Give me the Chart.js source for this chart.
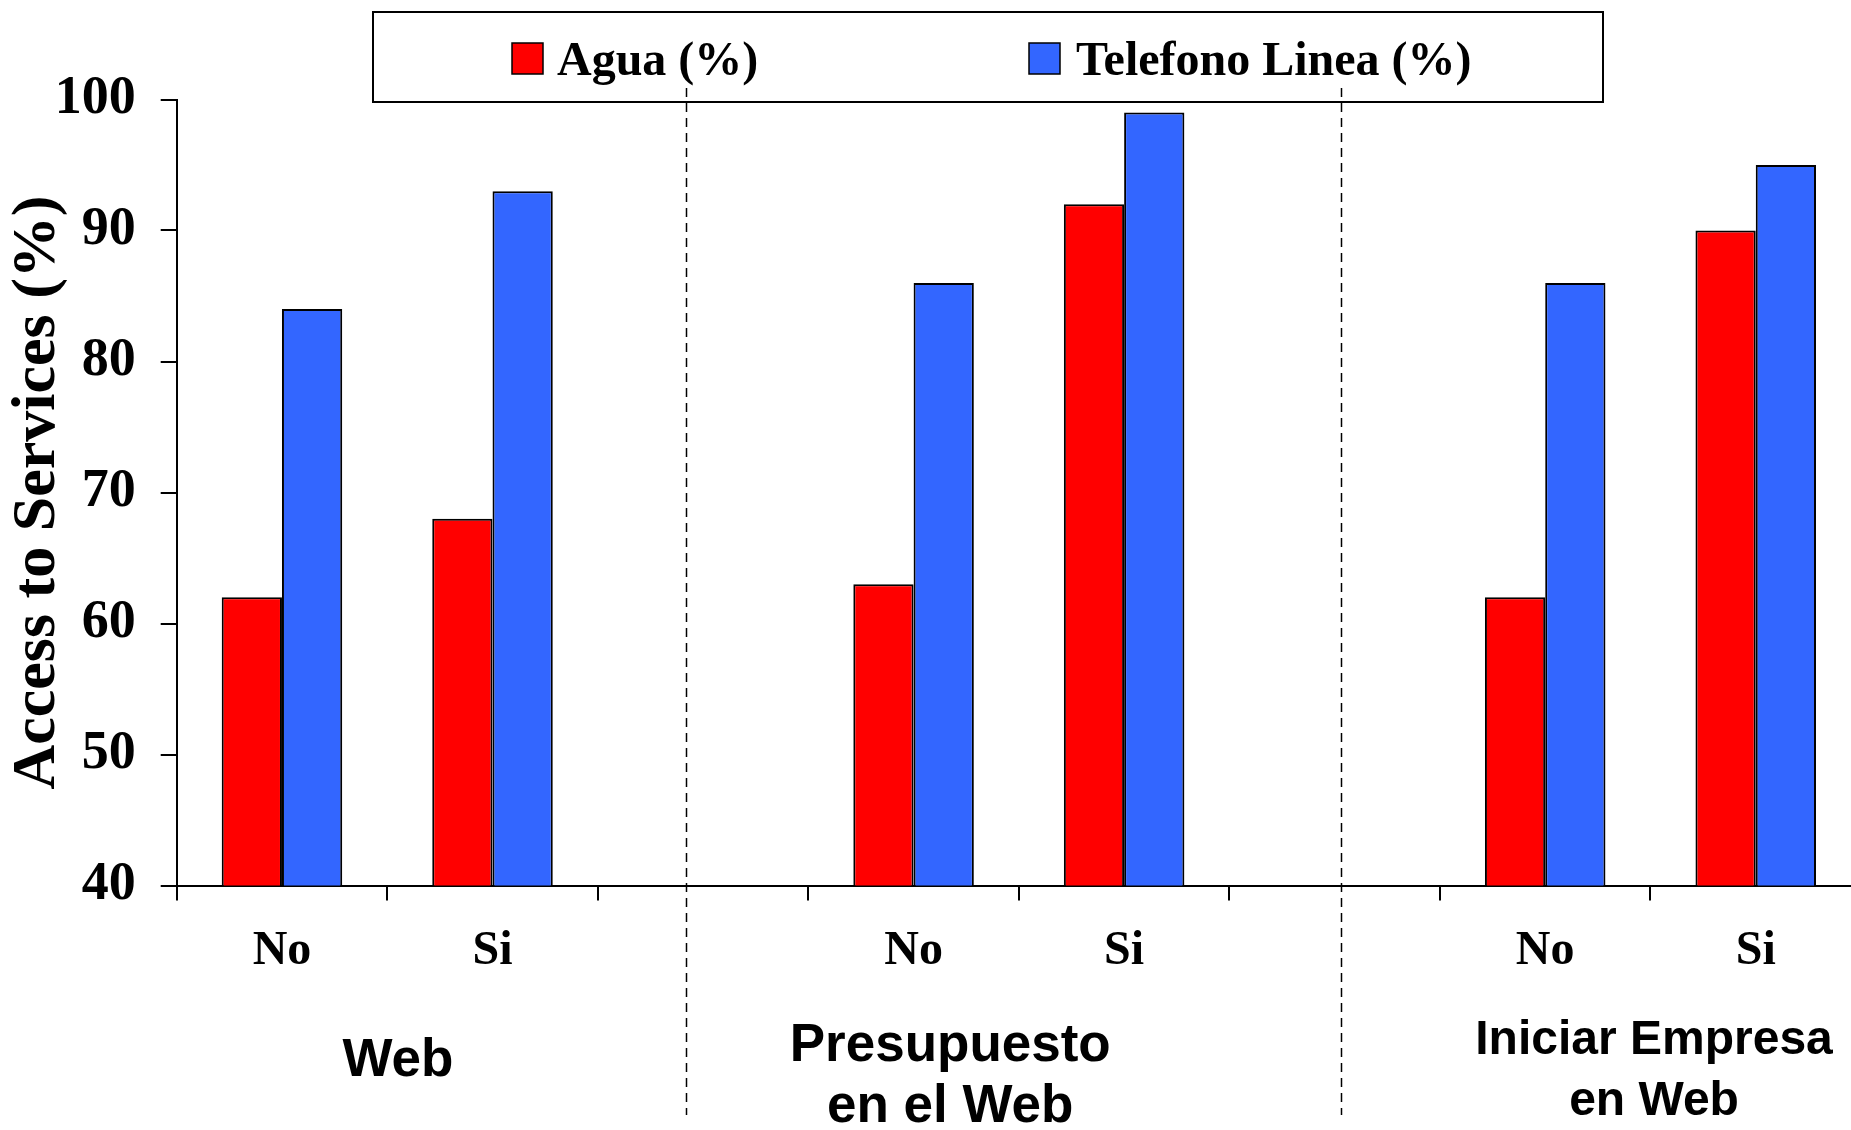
<!DOCTYPE html>
<html>
<head>
<meta charset="utf-8">
<script src="https://cdn.jsdelivr.net/npm/chart.js@4.4.0/dist/chart.umd.min.js"></script>
<style>
  html, body { margin: 0; padding: 0; background: #fff; overflow: hidden; }
  #access-chart { display: block; }
</style>
</head>
<body>
<canvas id="access-chart" width="1861" height="1130"></canvas>
<script>
// categories (blank slots separate the three groups)
const categories = ['No', 'Si', '', 'No', 'Si', '', 'No', 'Si'];
const groupNames = [['Web'], ['Presupuesto', 'en el Web'], ['Iniciar Empresa', 'en Web']];

// series values, %
const agua = [62, 68, null, 63, 92, null, 62, 90];
const telefono = [84, 93, null, 86, 99, null, 86, 95];

// y axis ticks
const yMin = 40;
const yMax = 100;
const yStep = 10;

const serif = "'Liberation Serif', 'Times New Roman', serif";
const sans = "'Liberation Sans', Arial, sans-serif";

// legend box, dashed separators and group captions under the axis
const decorations = {
    id: 'decorations',
    afterDraw(chart) {
        const c = chart.ctx;
        const x = chart.scales.x;
        c.save();

        // legend
        c.lineWidth = 2;
        c.strokeStyle = '#000';
        c.strokeRect(373, 12, 1230, 90);
        const items = [[512, 557], [1029, 1076]];
        c.font = 'bold 48px ' + serif;
        c.textBaseline = 'middle';
        c.textAlign = 'left';
        chart.data.datasets.forEach((ds, i) => {
            c.fillStyle = ds.backgroundColor;
            c.fillRect(items[i][0], 43, 31, 31);
            c.lineWidth = 1.5;
            c.strokeRect(items[i][0], 43, 31, 31);
            c.fillStyle = '#000';
            c.fillText(ds.label, items[i][1], 63);
        });

        // dashed separators
        c.setLineDash([9, 6]);
        c.lineWidth = 1.5;
        [1.92, 5.03].forEach(v => {
            const px = Math.round(x.getPixelForValue(v)) + 0.5;
            c.beginPath();
            c.moveTo(px, 88);
            c.lineTo(px, 1115);
            c.stroke();
        });
        c.setLineDash([]);

        // group captions
        c.textAlign = 'center';
        c.fillStyle = '#000';
        const spots = [
            { v: 0.551, y: 1061, size: 53 },
            { v: 3.174, y: 1046, size: 53 },
            { v: 6.517, y: 1041, size: 48 }
        ];
        groupNames.forEach((lines, i) => {
            const s = spots[i];
            c.font = 'bold ' + s.size + 'px ' + sans;
            lines.forEach((t, j) => {
                c.fillText(t, x.getPixelForValue(s.v), s.y + j * 61);
            });
        });
        c.restore();
    }
};

const ctx = document.getElementById('access-chart').getContext('2d');

new Chart(ctx, {
    type: 'bar',
    data: {
        labels: categories,
        datasets: [
            {
                label: 'Agua (%)',
                data: agua,
                backgroundColor: '#ff0000',
                borderColor: '#000',
                borderWidth: 2
            },
            {
                label: 'Telefono Linea (%)',
                data: telefono,
                backgroundColor: '#3366ff',
                borderColor: '#000',
                borderWidth: 2
            }
        ]
    },
    options: {
        responsive: false,
        animation: false,
        categoryPercentage: 0.5725,
        barPercentage: 1.0,
        layout: { padding: { top: 99.5, left: 0, right: 0, bottom: 0 } },
        plugins: {
            legend: { display: false },
            tooltip: { enabled: false }
        },
        scales: {
            x: {
                offset: true,
                afterFit(s) { s.height = 244.5; },
                grid: {
                    offset: true,
                    drawOnChartArea: false,
                    drawTicks: true,
                    tickLength: 15,
                    color: '#000',
                    lineWidth: 2
                },
                border: { display: true, color: '#000', width: 2 },
                ticks: {
                    autoSkip: false,
                    maxRotation: 0,
                    padding: 22,
                    color: '#000',
                    font: { family: serif, size: 48, weight: 'bold' }
                }
            },
            y: {
                min: yMin,
                max: yMax,
                afterFit(s) { s.width = 176.7; },
                grid: {
                    drawOnChartArea: false,
                    drawTicks: true,
                    tickLength: 16,
                    color: '#000',
                    lineWidth: 2
                },
                border: { display: true, color: '#000', width: 2 },
                ticks: {
                    stepSize: yStep,
                    padding: 25,
                    color: '#000',
                    font: { family: serif, size: 54, weight: 'bold' }
                },
                title: {
                    display: true,
                    text: 'Access to Services (%)',
                    color: '#000',
                    padding: { top: 7, bottom: 0 },
                    font: { family: serif, size: 62, weight: 'bold', lineHeight: 1 }
                }
            }
        }
    },
    plugins: [decorations]
});
</script>
</body>
</html>
